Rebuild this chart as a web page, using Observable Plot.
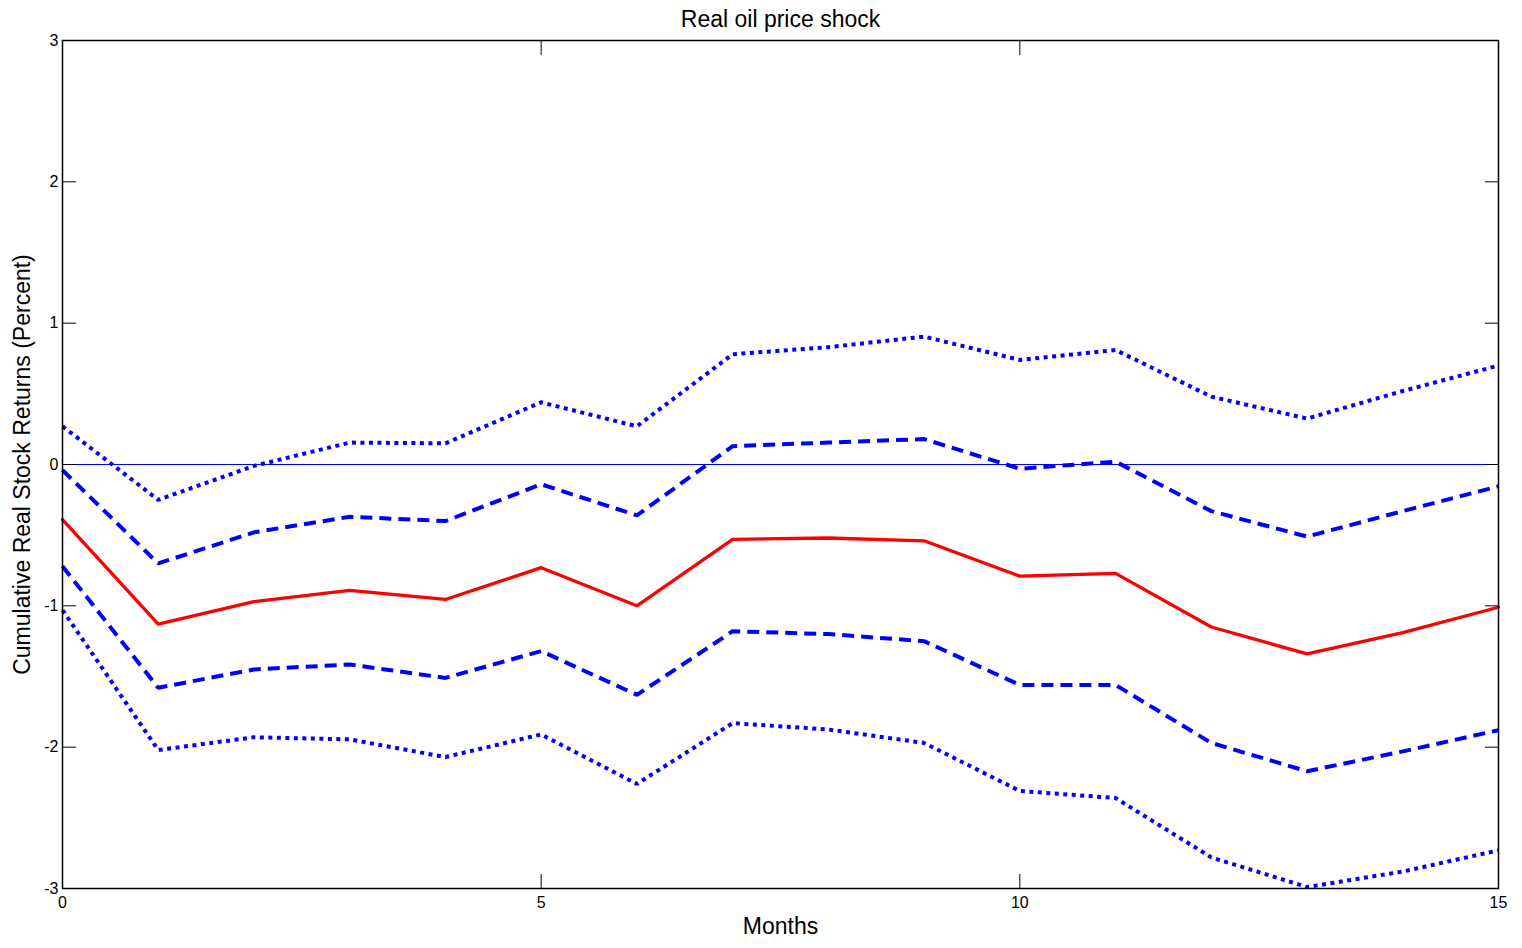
<!DOCTYPE html>
<html>
<head>
<meta charset="utf-8">
<script src="https://cdn.jsdelivr.net/npm/d3@7"></script>
<script src="https://cdn.jsdelivr.net/npm/@observablehq/plot@0.6"></script>
<style>
  html, body { margin: 0; padding: 0; background: #fff; }
  #chart svg { display: block; }
</style>
</head>
<body>
<div id="chart"></div>
<script>
const months = [0, 1, 2, 3, 4, 5, 6, 7, 8, 9, 10, 11, 12, 13, 14, 15];
const response = [-0.39, -1.13, -0.97, -0.89, -0.955, -0.73, -1.00, -0.53, -0.52, -0.54, -0.79, -0.77, -1.15, -1.34, -1.19, -1.01];
const upperDashed = [-0.04, -0.70, -0.48, -0.37, -0.40, -0.14, -0.36, 0.13, 0.155, 0.18, -0.03, 0.02, -0.33, -0.51, -0.33, -0.155];
const lowerDashed = [-0.72, -1.58, -1.45, -1.415, -1.51, -1.32, -1.63, -1.18, -1.20, -1.25, -1.56, -1.56, -1.97, -2.17, -2.03, -1.88];
const upperDotted = [0.27, -0.25, -0.01, 0.155, 0.15, 0.44, 0.27, 0.78, 0.83, 0.905, 0.74, 0.81, 0.48, 0.325, 0.52, 0.70];
const lowerDotted = [-1.03, -2.02, -1.93, -1.945, -2.07, -1.91, -2.26, -1.83, -1.875, -1.97, -2.31, -2.36, -2.78, -2.99, -2.88, -2.73];
const xTicks = [0, 5, 10, 15];
const yTicks = [-3, -2, -1, 0, 1, 2, 3];
const title = "Real oil price shock";
const xLabel = "Months";
const yLabel = "Cumulative Real Stock Returns (Percent)";

const toRows = (vals) => months.map((m, i) => ({month: m, value: vals[i]}));

const font = "'Liberation Sans', Arial, Helvetica, sans-serif";
const dotted = {x: "month", y: "value", stroke: "blue", strokeWidth: 4, strokeDasharray: "4,4.5", strokeLinecap: "butt", strokeLinejoin: "miter"};
const dashed = {x: "month", y: "value", stroke: "blue", strokeWidth: 4, strokeDasharray: "12,7", strokeLinecap: "butt", strokeLinejoin: "miter"};

const chart = Plot.plot({
  width: 1522,
  height: 948,
  marginLeft: 62,
  marginRight: 24,
  marginTop: 40,
  marginBottom: 60,
  style: {fontFamily: font, fontSize: "16px", color: "black", background: "white"},
  x: {domain: [0, 15]},
  y: {domain: [-3, 3]},
  marks: [
    Plot.ruleY([0], {stroke: "blue", strokeWidth: 1}),
    Plot.line(toRows(upperDotted), dotted),
    Plot.line(toRows(lowerDotted), dotted),
    Plot.line(toRows(upperDashed), dashed),
    Plot.line(toRows(lowerDashed), dashed),
    Plot.line(toRows(response), {x: "month", y: "value", stroke: "red", strokeWidth: 3.3, strokeLinejoin: "miter"}),
    Plot.axisY(yTicks, {anchor: "left", tickSize: -14, tickFormat: () => "", label: null, strokeWidth: 1}),
    Plot.axisY(yTicks, {anchor: "right", tickSize: -14, tickFormat: () => "", label: null, strokeWidth: 1}),
    Plot.axisX(xTicks, {anchor: "bottom", tickSize: -14, tickFormat: () => "", label: null, strokeWidth: 1}),
    Plot.axisX(xTicks, {anchor: "top", tickSize: -14, tickFormat: () => "", label: null, strokeWidth: 1}),
    Plot.text(yTicks, {y: d => d, frameAnchor: "left", dx: -4, textAnchor: "end", lineAnchor: "middle", text: d => String(d), fontSize: 16, fill: "black"}),
    Plot.text(xTicks, {x: d => d, frameAnchor: "bottom", dy: 14, textAnchor: "middle", lineAnchor: "middle", text: d => String(d), fontSize: 16, fill: "black"}),
    Plot.frame({stroke: "black", strokeWidth: 1.5}),
    Plot.text([title], {frameAnchor: "top", dy: -21, textAnchor: "middle", lineAnchor: "middle", fontSize: 23, fill: "black"}),
    Plot.text([xLabel], {frameAnchor: "bottom", dy: 38, textAnchor: "middle", lineAnchor: "middle", fontSize: 23, fill: "black"}),
    Plot.text([yLabel], {frameAnchor: "left", dx: -40, textAnchor: "middle", lineAnchor: "middle", rotate: -90, fontSize: 23, fill: "black"})
  ]
});
document.getElementById("chart").appendChild(chart);
</script>
</body>
</html>
